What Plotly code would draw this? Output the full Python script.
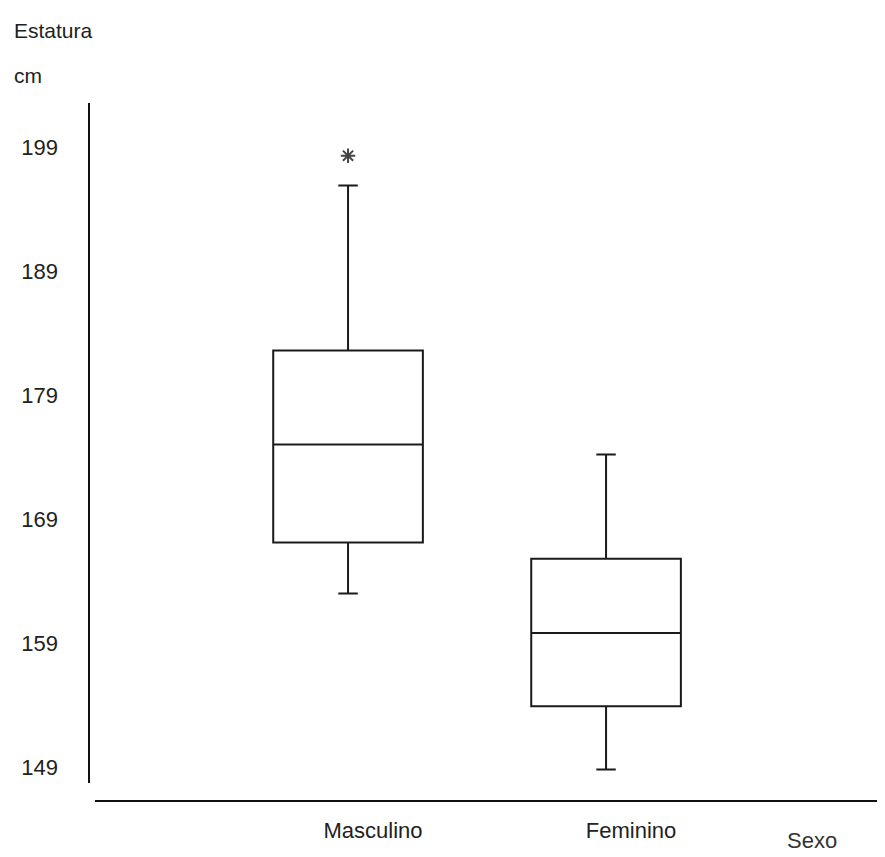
import plotly.graph_objects as go

categories = ["Masculino", "Feminino"]
lower_whisker = [163.0, 148.8]
q1_vals = [167.1, 153.9]
median_vals = [175.0, 159.8]
q3_vals = [182.6, 165.8]
upper_whisker = [195.9, 174.2]
outlier_cat = ["Masculino"]
outlier_val = [198.3]
y_ticks = [149, 159, 169, 179, 189, 199]

FONT = "Liberation Sans, Arial, sans-serif"
TXT = "#222222"

fig = go.Figure()
for i, c in enumerate(categories):
    fig.add_trace(go.Box(
        x=[c], q1=[q1_vals[i]], median=[median_vals[i]], q3=[q3_vals[i]],
        lowerfence=[lower_whisker[i]], upperfence=[upper_whisker[i]],
        fillcolor="white", line=dict(color="#1a1a1a", width=2),
        whiskerwidth=0.13, width=0.58, boxpoints=False, showlegend=False,
        hoverinfo="skip",
    ))

fig.add_trace(go.Scatter(
    x=outlier_cat, y=outlier_val, mode="markers",
    marker=dict(symbol="asterisk-open", size=12, color="#444444",
                line=dict(color="#444444", width=2)),
    showlegend=False, hoverinfo="skip",
))

fig.update_layout(
    width=877, height=849,
    margin=dict(l=81, r=7, t=95, b=56),
    plot_bgcolor="white", paper_bgcolor="white",
    font=dict(family=FONT, size=22, color=TXT),
    xaxis=dict(
        type="category", categoryorder="array", categoryarray=categories,
        range=[-1.004, 2.054], showgrid=False, zeroline=False, showline=False,
        ticks="", ticklabelshift=25, ticklabelstandoff=14,
        tickfont=dict(family=FONT, size=22, color=TXT),
    ),
    yaxis=dict(
        range=[146.26, 202.55], tickvals=y_ticks, ticktext=[str(v) for v in y_ticks],
        showgrid=False, zeroline=False, showline=False, ticks="",
        ticklabelstandoff=30,
        tickfont=dict(family=FONT, size=22, color=TXT),
    ),
    shapes=[
        dict(type="line", xref="paper", yref="paper", x0=0, x1=0, y0=(801-783)/698, y1=1,
             line=dict(color="#111111", width=2)),
        dict(type="line", xref="paper", yref="paper", x0=6/789, x1=1, y0=0, y1=0,
             line=dict(color="#111111", width=2)),
    ],
    annotations=[
        dict(text="Estatura", xref="paper", yref="paper", x=-77/789, y=(801-30)/698,
             xanchor="left", yanchor="middle", showarrow=False, font=dict(size=21, color=TXT)),
        dict(text="cm", xref="paper", yref="paper", x=-77/789, y=(801-75)/698,
             xanchor="left", yanchor="middle", showarrow=False, font=dict(size=21, color=TXT)),
        dict(text="Sexo", xref="paper", yref="paper", x=(812-89)/789, y=(801-840)/698,
             xanchor="center", yanchor="middle", showarrow=False, font=dict(size=22, color="#333333")),
    ],
)

fig.write_html("out.html")
